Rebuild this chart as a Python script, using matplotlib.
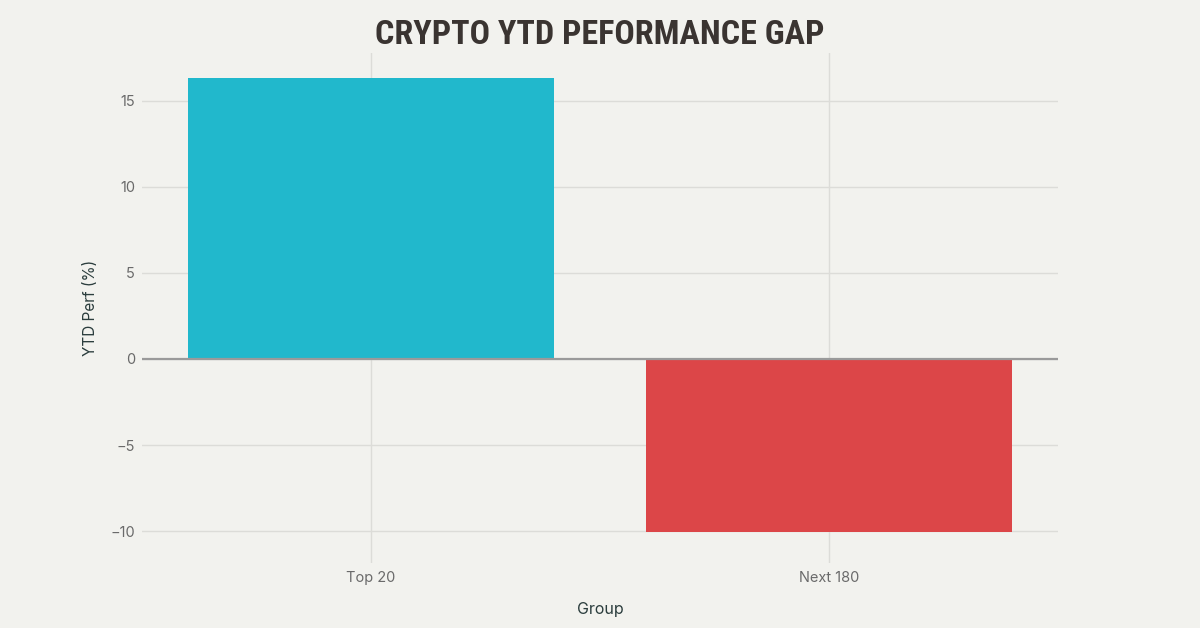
import matplotlib
matplotlib.use("Agg")
import matplotlib.pyplot as plt
from matplotlib import font_manager

categories = ["Top 20", "Next 180"]
values = [16.35, -10.05]
colors = ["#21b8cc", "#dc4648"]

# find a condensed bold font for the title
title_fp = None
cands = []
for f in font_manager.fontManager.ttflist:
    n = f.fname.lower()
    if ("condensed" in n or "narrow" in n) and "bold" in n and "oblique" not in n and "italic" not in n:
        cands.append(f.fname)
cands.sort(key=lambda s: (0 if "roboto" in s.lower() else 1 if "liberation" in s.lower() else 2 if "dejavu" in s.lower() else 3, s))
if cands:
    title_fp = font_manager.FontProperties(fname=cands[0], size=24.5)
else:
    title_fp = font_manager.FontProperties(family="DejaVu Sans", weight="bold", size=22)

bg = "#f2f2ee"
fig = plt.figure(figsize=(12, 6.28), dpi=100, facecolor=bg)
ax = fig.add_axes([142/1200, 1-563/628, (1058-142)/1200, (563-53)/628])
ax.set_facecolor(bg)

x = list(range(len(categories)))
ax.bar(x, values, width=0.8, color=colors, zorder=2)
ax.set_xlim(-0.5, 1.5)
ax.set_ylim(-11.86, 17.79)
ax.set_xticks(x)
ax.set_xticklabels(categories)
ax.set_yticks([-10, -5, 0, 5, 10, 15])
ax.set_yticklabels(["\u221210", "\u22125", "0", "5", "10", "15"])
ax.grid(True, color="#dcdcd8", linewidth=1, zorder=0)
ax.axhline(0, color="#9a9a9a", linewidth=1.6, zorder=3)
for s in ax.spines.values():
    s.set_visible(False)
ax.tick_params(axis="both", length=0, colors="#6a6a6a", labelsize=10.5)
ax.tick_params(axis="y", pad=5)
ax.tick_params(axis="x", pad=6)
for lab in ax.get_xticklabels() + ax.get_yticklabels():
    lab.set_family("Inter")
ax.set_xlabel("Group", fontsize=11.5, color="#2b3d3d", family="Inter", labelpad=12)
ax.set_ylabel("YTD Perf (%)", fontsize=11, color="#2b3d3d", family="Inter", labelpad=9)

fig.text(0.5, 1-35/628, "CRYPTO YTD PEFORMANCE GAP", ha="center", va="center",
         fontproperties=title_fp, color="#3a3431")

fig.savefig("out.png", dpi=100, facecolor=bg)
